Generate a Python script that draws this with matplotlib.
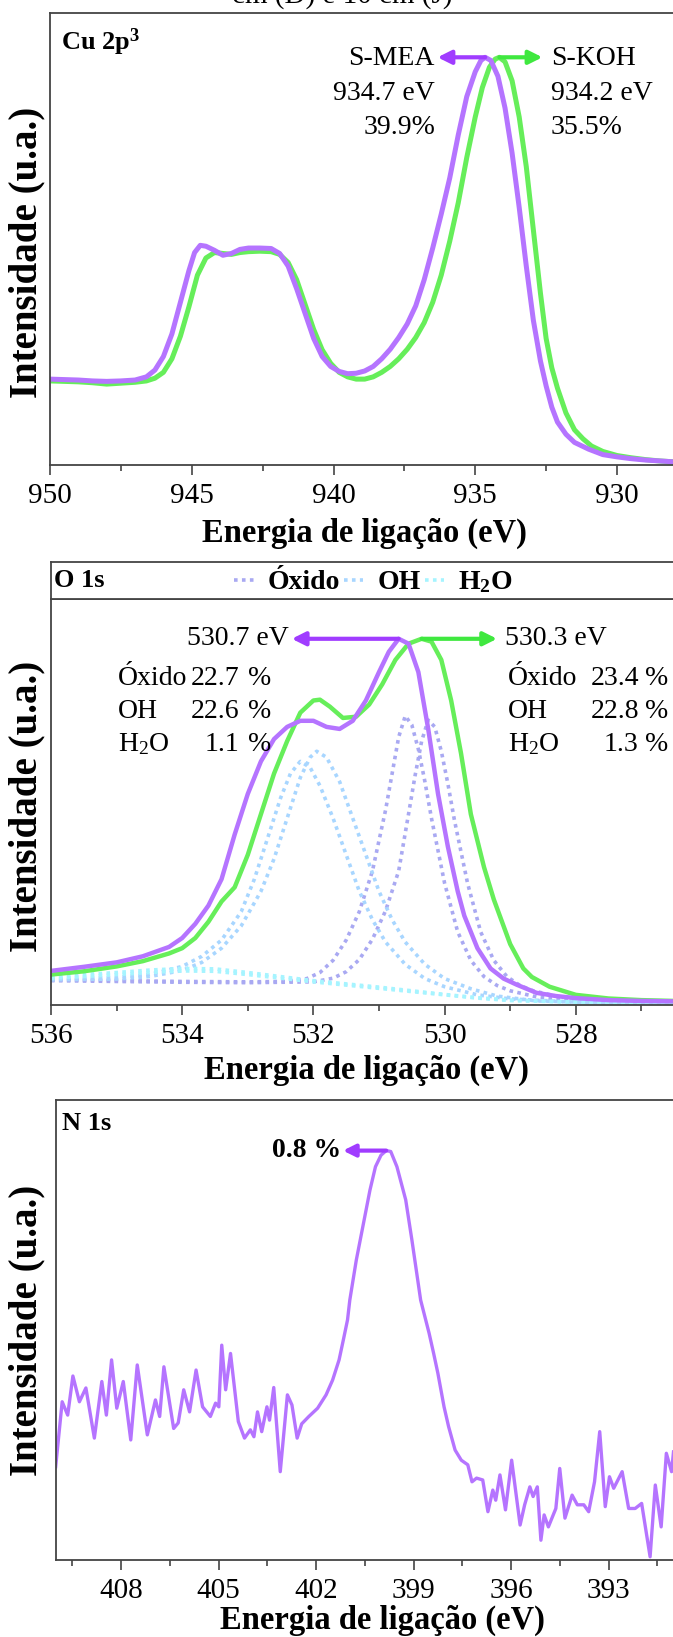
import numpy as np
import matplotlib

matplotlib.use("Agg")
import matplotlib.pyplot as plt
from matplotlib.transforms import blended_transform_factory

plt.rcParams["font.family"] = ["Liberation Serif", "DejaVu Serif"]
plt.rcParams["mathtext.fontset"] = "custom"
plt.rcParams["mathtext.rm"] = "Liberation Serif"
plt.rcParams["mathtext.bf"] = "Liberation Serif:bold"
plt.rcParams["mathtext.it"] = "Liberation Serif:italic"

PURPLE = "#B574FF"
PURPLE_ARROW = "#A03CFF"
GREEN = "#66EE5A"
GREEN_ARROW = "#3FE83F"
OXIDO = "#A9A9F2"
OH_C = "#A8D6FF"
H2O_C = "#A6F4FF"
SPINE = "#444444"

# ---------------- Cu 2p3 ----------------
cu_be_mea = [950.0, 949.5, 949.0, 948.5, 948.0, 947.5, 947.0, 946.6, 946.3, 946.0, 945.7, 945.4,
             945.1, 944.9, 944.7, 944.5, 944.2, 943.9, 943.6, 943.3, 943.0, 942.6, 942.2, 941.9,
             941.6, 941.3, 941.0, 940.7, 940.4, 940.1, 939.8, 939.5, 939.2, 938.9, 938.6, 938.3,
             938.0, 937.7, 937.4, 937.1, 936.8, 936.5, 936.2, 935.9, 935.6, 935.3, 935.0, 934.8,
             934.65, 934.45, 934.2, 933.95, 933.7, 933.45, 933.2, 932.95, 932.7, 932.5, 932.3,
             932.1, 931.8, 931.5, 931.0, 930.5, 930.0, 929.5, 929.0, 928.5, 928.0, 927.5]
cu_int_mea = [0.190, 0.189, 0.188, 0.186, 0.185, 0.186, 0.188, 0.195, 0.210, 0.240, 0.290, 0.360,
              0.430, 0.470, 0.486, 0.484, 0.475, 0.464, 0.468, 0.477, 0.480, 0.480, 0.479, 0.468,
              0.440, 0.390, 0.335, 0.280, 0.240, 0.218, 0.207, 0.202, 0.203, 0.208, 0.218, 0.235,
              0.256, 0.282, 0.312, 0.352, 0.410, 0.480, 0.555, 0.635, 0.730, 0.815, 0.870, 0.895,
              0.902, 0.895, 0.860, 0.790, 0.690, 0.570, 0.440, 0.320, 0.230, 0.175, 0.128,
              0.095, 0.068, 0.050, 0.035, 0.023, 0.018, 0.014, 0.011, 0.009, 0.007, 0.006]

cu_be_koh = [950.0, 949.5, 949.0, 948.5, 948.0, 947.5, 947.0, 946.6, 946.3, 946.0, 945.7, 945.4,
             945.1, 944.8, 944.5, 944.2, 943.9, 943.6, 943.3, 943.0, 942.6, 942.2, 941.9, 941.6,
             941.3, 941.0, 940.7, 940.4, 940.1, 939.8, 939.5, 939.2, 938.9, 938.6, 938.3, 938.0,
             937.7, 937.4, 937.1, 936.8, 936.5, 936.2, 935.9, 935.6, 935.3, 935.0, 934.75, 934.5,
             934.3, 934.15, 933.95, 933.7, 933.45, 933.2, 932.95, 932.7, 932.5, 932.3, 932.1,
             931.8, 931.5, 931.2, 930.9, 930.5, 930.0, 929.5, 929.0, 928.5, 928.0, 927.5]
cu_int_koh = [0.186, 0.185, 0.184, 0.182, 0.179, 0.181, 0.183, 0.186, 0.192, 0.205, 0.235, 0.285,
              0.350, 0.420, 0.458, 0.470, 0.468, 0.466, 0.470, 0.472, 0.473, 0.472, 0.466, 0.448,
              0.410, 0.355, 0.300, 0.255, 0.225, 0.205, 0.195, 0.190, 0.190, 0.195, 0.205, 0.218,
              0.235, 0.256, 0.282, 0.315, 0.360, 0.420, 0.495, 0.580, 0.680, 0.770, 0.835, 0.880,
              0.898, 0.902, 0.892, 0.850, 0.770, 0.660, 0.520, 0.380, 0.280, 0.215, 0.170,
              0.115, 0.078, 0.058, 0.042, 0.030, 0.021, 0.016, 0.012, 0.009, 0.007, 0.006]

# ---------------- O 1s ----------------
o_be_mea = [536.0, 535.5, 535.0, 534.6, 534.2, 534.0, 533.8, 533.6, 533.4, 533.2, 533.0, 532.8,
            532.6, 532.4, 532.2, 532.0, 531.8, 531.6, 531.4, 531.2, 531.0, 530.85, 530.7, 530.55,
            530.4, 530.25, 530.1, 529.95, 529.8, 529.7, 529.5, 529.3, 529.1, 528.9, 528.6, 528.3,
            528.0, 527.5, 527.0, 526.5]
o_int_mea = [0.084, 0.094, 0.105, 0.120, 0.143, 0.165, 0.200, 0.245, 0.310, 0.420, 0.520, 0.600,
             0.655, 0.685, 0.700, 0.700, 0.685, 0.680, 0.700, 0.750, 0.820, 0.870, 0.902, 0.890,
             0.820, 0.680, 0.520, 0.390, 0.280, 0.220, 0.140, 0.090, 0.065, 0.050, 0.030, 0.022,
             0.017, 0.012, 0.010, 0.009]

o_be_koh = [536.0, 535.5, 535.0, 534.6, 534.2, 534.0, 533.8, 533.6, 533.4, 533.2, 533.0, 532.8,
            532.6, 532.4, 532.2, 532.0, 531.9, 531.75, 531.55, 531.35, 531.15, 530.95, 530.75,
            530.55, 530.35, 530.2, 530.05, 529.9, 529.75, 529.6, 529.4, 529.25, 529.0, 528.8,
            528.67, 528.4, 528.0, 527.5, 527.0, 526.5]
o_int_koh = [0.075, 0.083, 0.095, 0.108, 0.127, 0.140, 0.165, 0.205, 0.255, 0.290, 0.370, 0.470,
             0.570, 0.650, 0.720, 0.750, 0.752, 0.735, 0.707, 0.710, 0.740, 0.790, 0.850,
             0.890, 0.902, 0.895, 0.850, 0.750, 0.620, 0.470, 0.340, 0.260, 0.150, 0.090,
             0.069, 0.045, 0.025, 0.016, 0.012, 0.010]

oxido_be_mea = [536.0, 535.0, 534.0, 533.0, 532.4, 532.1, 531.9, 531.7, 531.5, 531.3, 531.1, 530.9,
                530.8, 530.7, 530.6, 530.5, 530.4, 530.3, 530.2, 530.0, 529.8, 529.6, 529.4, 529.2,
                529.0, 528.6, 528.0, 527.0, 526.5]
oxido_int_mea = [0.062, 0.060, 0.058, 0.057, 0.058, 0.065, 0.080, 0.110, 0.160, 0.230, 0.330, 0.480,
                 0.570, 0.660, 0.712, 0.690, 0.630, 0.550, 0.460, 0.300, 0.180, 0.110, 0.070, 0.048,
                 0.035, 0.020, 0.010, 0.005, 0.004]

oxido_be_koh = [536.0, 535.0, 534.0, 533.0, 532.0, 531.7, 531.5, 531.3, 531.1, 530.9, 530.7, 530.55,
                530.45, 530.35, 530.25, 530.15, 530.05, 529.95, 529.85, 529.65, 529.45, 529.25,
                529.05, 528.85, 528.65, 528.25, 527.6, 527.0, 526.5]
oxido_int_koh = [0.060, 0.058, 0.056, 0.055, 0.057, 0.066, 0.082, 0.112, 0.162, 0.232, 0.330, 0.470,
                 0.565, 0.650, 0.702, 0.685, 0.625, 0.545, 0.455, 0.300, 0.180, 0.110, 0.070,
                 0.048, 0.035, 0.020, 0.010, 0.005, 0.004]

oh_be_mea = [536.0, 535.0, 534.5, 534.0, 533.7, 533.4, 533.1, 532.9, 532.7, 532.5, 532.35, 532.2,
             532.05, 531.9, 531.7, 531.5, 531.3, 531.1, 530.9, 530.6, 530.3, 530.0, 529.5, 529.0,
             528.0, 526.5]
oh_int_mea = [0.065, 0.068, 0.075, 0.095, 0.120, 0.160, 0.230, 0.310, 0.410, 0.510, 0.570, 0.600,
              0.585, 0.540, 0.460, 0.370, 0.280, 0.210, 0.155, 0.100, 0.065, 0.045, 0.025, 0.015,
              0.007, 0.004]

oh_be_koh = [536.0, 535.0, 534.5, 534.0, 533.7, 533.4, 533.1, 532.8, 532.6, 532.4, 532.2, 532.05,
             531.95, 531.8, 531.6, 531.4, 531.2, 531.0, 530.8, 530.6, 530.3, 530.0, 529.6, 529.2,
             528.6, 527.5, 526.5]
oh_int_koh = [0.062, 0.064, 0.070, 0.085, 0.105, 0.140, 0.195, 0.280, 0.360, 0.460, 0.560, 0.610,
              0.625, 0.610, 0.550, 0.460, 0.370, 0.280, 0.210, 0.155, 0.100, 0.065, 0.040, 0.022,
              0.010, 0.005, 0.004]

h2o_be = [536.0, 535.5, 535.0, 534.5, 534.0, 533.5, 533.0, 532.5, 532.0, 531.5, 531.0, 530.5,
          530.0, 529.5, 529.0, 528.0, 527.0, 526.5]
h2o_int_mea = [0.070, 0.075, 0.080, 0.086, 0.090, 0.089, 0.080, 0.070, 0.060, 0.052, 0.044, 0.035,
               0.026, 0.018, 0.012, 0.007, 0.005, 0.004]
h2o_int_koh = [0.066, 0.070, 0.075, 0.080, 0.084, 0.083, 0.075, 0.066, 0.057, 0.049, 0.041, 0.033,
               0.025, 0.017, 0.011, 0.007, 0.005, 0.004]

# ---------------- N 1s ----------------
n_be = [410.01, 409.81, 409.64, 409.48, 409.28, 409.08, 408.82, 408.59, 408.45, 408.29, 408.13,
        407.93, 407.70, 407.50, 407.19, 406.94, 406.81, 406.68, 406.38, 406.24, 406.07, 405.89,
        405.69, 405.49, 405.25, 405.09, 404.99, 404.90, 404.78, 404.63, 404.39, 404.20, 404.02,
        403.91, 403.80, 403.67, 403.51, 403.43, 403.30, 403.10, 402.88, 402.74, 402.58, 402.44,
        402.22, 401.95, 401.69, 401.49, 401.29, 401.16, 401.03, 400.96, 400.76, 400.50, 400.34,
        400.17, 400.00, 399.84, 399.70, 399.51, 399.24, 399.05, 398.78, 398.52, 398.38, 398.25,
        398.06, 397.92, 397.72, 397.53, 397.33, 397.20, 397.06, 396.87, 396.71, 396.56, 396.47,
        396.34, 396.17, 395.98, 395.72, 395.58, 395.42, 395.32, 395.19, 395.08, 394.98, 394.85,
        394.62, 394.50, 394.34, 394.12, 393.96, 393.76, 393.61, 393.43, 393.27, 393.10, 392.97,
        392.84, 392.58, 392.38, 392.18, 391.98, 391.72, 391.56, 391.38, 391.22, 391.06, 391.00]
n_int = [0.203, 0.344, 0.315, 0.400, 0.344, 0.374, 0.265, 0.388, 0.315, 0.435, 0.330,
         0.388, 0.261, 0.424, 0.272, 0.348, 0.312, 0.420, 0.286, 0.298, 0.370, 0.322,
         0.413, 0.333, 0.312, 0.341, 0.333, 0.467, 0.370, 0.449, 0.301, 0.265, 0.283,
         0.268, 0.322, 0.279, 0.333, 0.304, 0.375, 0.192, 0.359, 0.337, 0.265, 0.296,
         0.312, 0.330, 0.359, 0.391, 0.435, 0.478, 0.522, 0.565, 0.652, 0.746, 0.804,
         0.855, 0.880, 0.890, 0.888, 0.855, 0.783, 0.696, 0.565, 0.493, 0.449, 0.406,
         0.333, 0.290, 0.239, 0.217, 0.207, 0.170, 0.178, 0.174, 0.105, 0.152, 0.130,
         0.185, 0.109, 0.217, 0.076, 0.120, 0.159, 0.138, 0.159, 0.043, 0.098, 0.072,
         0.112, 0.199, 0.091, 0.141, 0.120, 0.120, 0.105, 0.170, 0.279, 0.116, 0.181,
         0.156, 0.192, 0.112, 0.112, 0.123, 0.007, 0.163, 0.072, 0.232, 0.192, 0.235]

W, H = 673, 1637
fig = plt.figure(figsize=(W / 100, H / 100), dpi=100, facecolor="white")


def add_axes_px(left, top, bottom, x0, x1, px_per_unit):
    width = (x0 - x1) * px_per_unit
    ax = fig.add_axes([left / W, 1 - bottom / H, width / W, (bottom - top) / H])
    ax.set_xlim(x0, x1)
    ax.set_ylim(0, 1)
    return ax


def style_axes(ax, major, minor, label_y):
    for s in ax.spines.values():
        s.set_color(SPINE)
        s.set_linewidth(1.3)
    ax.set_yticks([])
    ax.set_xticks(major)
    ax.set_xticks(minor, minor=True)
    ax.tick_params(axis="x", which="major", direction="out", length=7, width=1.2,
                   color=SPINE, labelsize=21, pad=6)
    ax.tick_params(axis="x", which="minor", direction="out", length=4, width=1.2, color=SPINE)
    ax.set_xlabel("Energia de ligação (eV)", fontsize=23.5, fontweight="bold")
    ax.set_ylabel("Intensidade (u.a.)", fontsize=28, fontweight="bold", va="center")
    ax.yaxis.set_label_coords(27 / W, label_y,
                              transform=blended_transform_factory(fig.transFigure, ax.transAxes))


def xlabel_at(ax, x_px, y_px):
    ax.xaxis.set_label_coords(x_px / W, 1 - y_px / H, transform=fig.transFigure)
    ax.xaxis.label.set_va("center")


def arrow(ax, tip, base, y, color, scale=20):
    ax.annotate("", xy=(tip, y), xytext=(base, y),
                arrowprops=dict(arrowstyle="-|>", color=color, lw=3, mutation_scale=scale,
                                shrinkA=0, shrinkB=0))


# ---------- panel 1: Cu 2p3 ----------
ax1 = add_axes_px(50, 13, 465, 950, 924, 28.35)
style_axes(ax1, [950, 945, 940, 935, 930], [947.5, 942.5, 937.5, 932.5], 0.47)
xlabel_at(ax1, 364, 533)
ax1.plot(cu_be_koh, cu_int_koh, color=GREEN, lw=3.6, solid_capstyle="round")
ax1.plot(cu_be_mea, cu_int_mea, color=PURPLE, lw=3.6, solid_capstyle="round")

pk_mea = cu_be_mea[int(np.argmax(cu_int_mea))]
pk_koh = cu_be_koh[int(np.argmax(cu_int_koh))]
y_arrow = max(cu_int_mea)
arrow(ax1, 936.33, pk_mea, y_arrow, PURPLE_ARROW)
arrow(ax1, 932.63, pk_koh, y_arrow, GREEN_ARROW)
for i, (l, r) in enumerate([("S-MEA", "S-KOH"), ("934.7 eV", "934.2 eV"), ("39.9%", "35.5%")]):
    yy = 0.900 - i * 0.077
    ax1.text(936.42, yy, l, ha="right", va="center", fontsize=20)
    ax1.text(932.33, yy, r, ha="left", va="center", fontsize=20)
ax1.text(949.6, 0.935, r"Cu 2p$^\mathbf{3}$", ha="left", va="center", fontsize=19,
         fontweight="bold")

fig.text(342 / W, 1 - 3 / H, "cm (D) e 10 cm (J)", ha="center", va="baseline", fontsize=21)

# ---------- panel 2: O 1s ----------
ax2 = add_axes_px(51, 599, 1005, 536, 524, 65.6)
style_axes(ax2, [536, 534, 532, 530, 528], [535, 533, 531, 529, 527], 0.49)
xlabel_at(ax2, 366, 1070)
hd = add_axes_px(51, 562, 599, 536, 524, 65.6)
hd.set_xticks([])
hd.set_yticks([])
for s in hd.spines.values():
    s.set_color(SPINE)
    s.set_linewidth(1.3)

dot = dict(ls=(0, (1, 1.2)), lw=2.6)
l_ox, = ax2.plot(oxido_be_mea, oxido_int_mea, color=OXIDO, **dot)
ax2.plot(oxido_be_koh, oxido_int_koh, color=OXIDO, **dot)
l_oh, = ax2.plot(oh_be_mea, oh_int_mea, color=OH_C, **dot)
ax2.plot(oh_be_koh, oh_int_koh, color=OH_C, **dot)
l_h2o, = ax2.plot(h2o_be, h2o_int_mea, color=H2O_C, **dot)
ax2.plot(h2o_be, h2o_int_koh, color=H2O_C, **dot)
ax2.plot(o_be_koh, o_int_koh, color=GREEN, lw=3.2, solid_capstyle="round")
ax2.plot(o_be_mea, o_int_mea, color=PURPLE, lw=3.2, solid_capstyle="round")

pk_o_mea = o_be_mea[int(np.argmax(o_int_mea))]
pk_o_koh = o_be_koh[int(np.argmax(o_int_koh))]
ya = max(o_int_mea)
arrow(ax2, 532.33, pk_o_mea, ya, PURPLE_ARROW)
arrow(ax2, 529.2, pk_o_koh, ya, GREEN_ARROW)
ax2.text(532.38, ya, "530.7 eV", ha="right", va="center", fontsize=20)
ax2.text(529.08, ya, "530.3 eV", ha="left", va="center", fontsize=20)

comp_names = ["Óxido", "OH", r"H$_2$O"]
left_vals = ["22.7", "22.6", "1.1"]
right_vals = ["23.4", "22.8", "1.3"]
for i, name in enumerate(comp_names):
    yy = 0.805 - i * 0.0815
    ax2.text(534.98, yy, name, ha="left", va="center", fontsize=20)
    ax2.text(533.13, yy, left_vals[i], ha="right", va="center", fontsize=20)
    ax2.text(533.0, yy, "%", ha="left", va="center", fontsize=20)
    ax2.text(529.03, yy, name, ha="left", va="center", fontsize=20)
    ax2.text(527.04, yy, right_vals[i], ha="right", va="center", fontsize=20)
    ax2.text(526.95, yy, "%", ha="left", va="center", fontsize=20)

hd.text(535.95, 0.5, "O 1s", ha="left", va="center", fontsize=19, fontweight="bold")
hd.legend([l_ox, l_oh, l_h2o], ["Óxido", "OH", r"H$_\mathbf{2}$O"], ncol=3, loc="center left",
          bbox_to_anchor=(533.42, 0.45), bbox_transform=hd.transData, frameon=False,
          borderpad=0, handlelength=0.7, handletextpad=0.5, columnspacing=0.15,
          prop={"weight": "bold", "size": 20})

# ---------- panel 3: N 1s ----------
ax3 = add_axes_px(56, 1100, 1560, 410, 388, 32.5)
style_axes(ax3, [408, 405, 402, 399, 396, 393],
           [409.5, 406.5, 403.5, 400.5, 397.5, 394.5, 391.5], 0.5)
xlabel_at(ax3, 382, 1620)
ax3.plot(n_be, n_int, color=PURPLE, lw=2.4, solid_joinstyle="round")
pk_n = n_be[int(np.argmax(n_int))]
yn = max(n_int)
arrow(ax3, 401.17, pk_n, yn, PURPLE_ARROW, 18)
ax3.text(401.23, yn, "0.8 %", ha="right", va="center", fontsize=20, fontweight="bold")
ax3.text(409.8, 0.95, "N 1s", ha="left", va="center", fontsize=19, fontweight="bold")

fig.savefig("out.png", dpi=100, facecolor="white")
